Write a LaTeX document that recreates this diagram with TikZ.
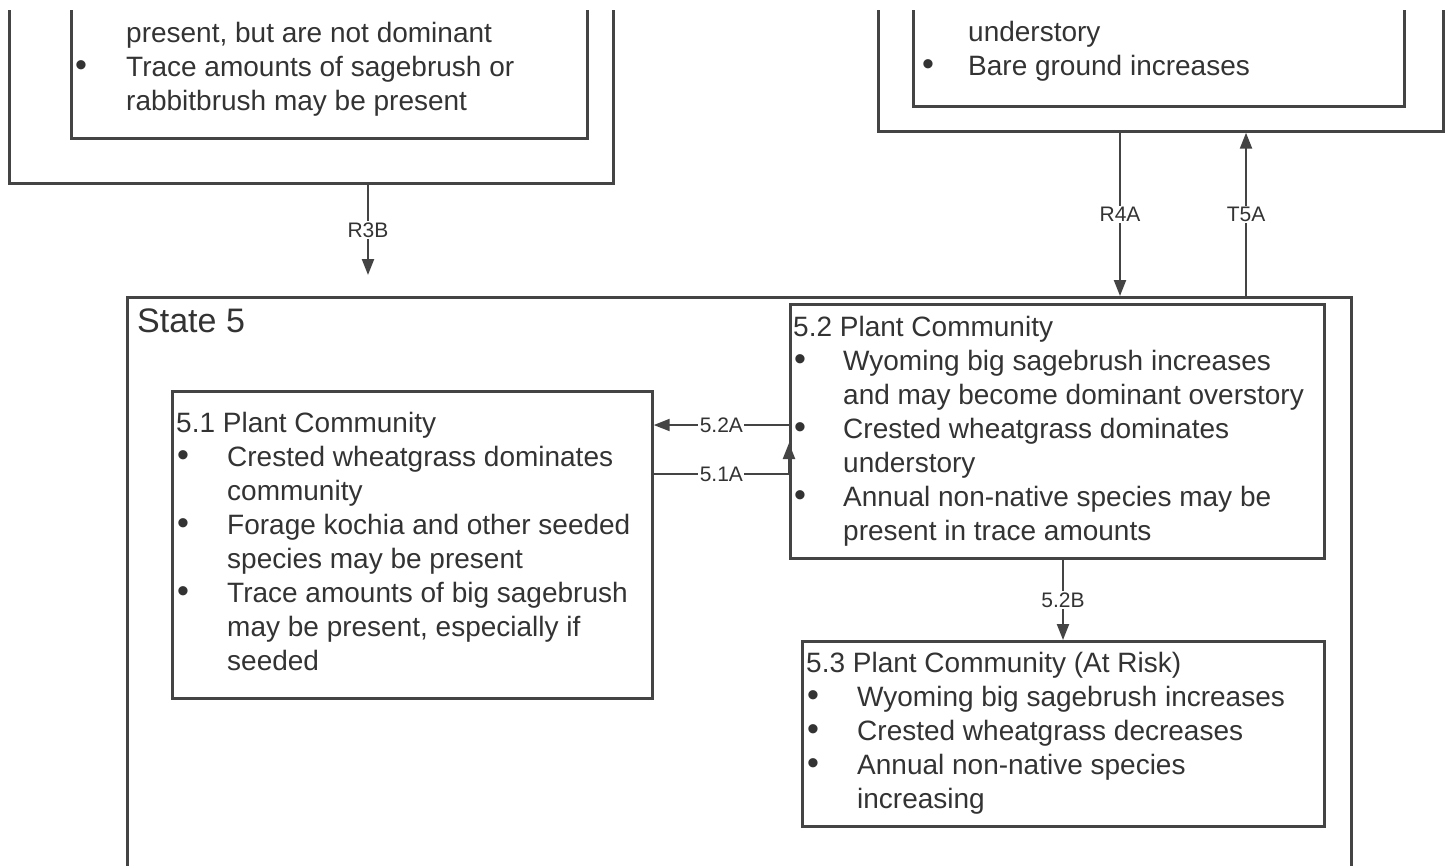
\documentclass[tikz,border=0pt]{standalone}
\usepackage{fontspec}
\setmainfont{Liberation Sans}
\usetikzlibrary{arrows.meta,calc}
\definecolor{edge}{HTML}{444444}
\definecolor{ink}{HTML}{333333}
\newcommand{\mybul}{\hspace{1pt}{\fontsize{34}{34}\selectfont •}}
\tikzset{
 frame/.style={draw=edge, line width=2.7pt, rectangle, inner sep=0pt, anchor=north west},
 txt/.style={anchor=base west, inner sep=0pt, text=ink, font=\fontsize{28}{34}\selectfont},
 lab/.style={fill=white, inner sep=1.5pt, text=ink, font=\fontsize{21}{21}\selectfont},
 arr/.style={draw=edge, line width=2.2pt, -{Triangle[length=16pt,width=12pt]}},
}
\begin{document}
\begin{tikzpicture}[x=1pt,y=-1pt]
\path[use as bounding box] (0,0) rectangle (1445,865);
\begin{scope}
\clip (0,10) rectangle (1445,865);
% top-left state (cropped)
\node[frame, minimum width=604pt, minimum height=222pt] (tl) at (8,-40) {};
\node[frame, minimum width=516pt, minimum height=177pt] (tli) at (70,-40) {};
\node[txt] (tlt) at (74,42) {\begin{tabular}[t]{@{}p{52pt}@{}l@{}}
 & present, but are not dominant\\
 \mybul & Trace amounts of sagebrush or\\
 & rabbitbrush may be present
\end{tabular}};
% top-right state (cropped)
\node[frame, minimum width=565pt, minimum height=170pt] (tr) at (877,-40) {};
\node[frame, minimum width=491pt, minimum height=145pt] (tri) at (912,-40) {};
\node[txt] (trt) at (921,41) {\begin{tabular}[t]{@{}p{47pt}@{}l@{}}
 & understory\\
 \mybul & Bare ground increases
\end{tabular}};
% State 5
\node[frame, minimum width=1224pt, minimum height=620pt] (s5) at (126,296) {};
\node[anchor=base west, inner sep=0pt, text=ink, font=\fontsize{34}{34}\selectfont] (s5t) at (137,332) {State 5};
% 5.1
\node[frame, minimum width=480pt, minimum height=307pt] (b51) at (171,390) {};
\node[txt] (t51) at (176,432) {\begin{tabular}[t]{@{}p{51pt}@{}l@{}}
 \multicolumn{2}{@{}l@{}}{5.1 Plant Community}\\
 \mybul & Crested wheatgrass dominates\\
 & community\\
 \mybul & Forage kochia and other seeded\\
 & species may be present\\
 \mybul & Trace amounts of big sagebrush\\
 & may be present, especially if\\
 & seeded
\end{tabular}};
% 5.2
\node[frame, minimum width=534pt, minimum height=254pt] (b52) at (789,303) {};
\node[txt] (t52) at (793,336) {\begin{tabular}[t]{@{}p{50pt}@{}l@{}}
 \multicolumn{2}{@{}l@{}}{5.2 Plant Community}\\
 \mybul & Wyoming big sagebrush increases\\
 & and may become dominant overstory\\
 \mybul & Crested wheatgrass dominates\\
 & understory\\
 \mybul & Annual non-native species may be\\
 & present in trace amounts
\end{tabular}};
% 5.3
\node[frame, minimum width=522pt, minimum height=185pt] (b53) at (801,640) {};
\node[txt] (t53) at (806,672) {\begin{tabular}[t]{@{}p{51pt}@{}l@{}}
 \multicolumn{2}{@{}l@{}}{5.3 Plant Community (At Risk)}\\
 \mybul & Wyoming big sagebrush increases\\
 \mybul & Crested wheatgrass decreases\\
 \mybul & Annual non-native species\\
 & increasing
\end{tabular}};
% connectors
\coordinate (xR3B) at (368,275);
\coordinate (xR4A) at (1120,0);
\coordinate (xT5A) at (1246,0);
\coordinate (y52A) at (0,425);
\coordinate (y51A) at (0,474);
\coordinate (y51Ae) at (0,443);
\coordinate (x52B) at (1063,0);
\draw[arr] (tl.south -| xR3B) -- node[lab]{R3B} (xR3B);
\draw[arr] (tr.south -| xR4A) -- node[lab]{R4A} (s5.north -| xR4A);
\draw[arr] (s5.north -| xT5A) -- node[lab]{T5A} (tr.south -| xT5A);
\draw[arr] (b52.west |- y52A) -- node[lab]{5.2A} (b51.east |- y52A);
\draw[arr] (b51.east |- y51A) -- node[lab]{5.1A} (b52.west |- y51A) -- (b52.west |- y51Ae);
\draw[arr] (b52.south -| x52B) -- node[lab]{5.2B} (b53.north -| x52B);
\end{scope}
\end{tikzpicture}
\end{document}
